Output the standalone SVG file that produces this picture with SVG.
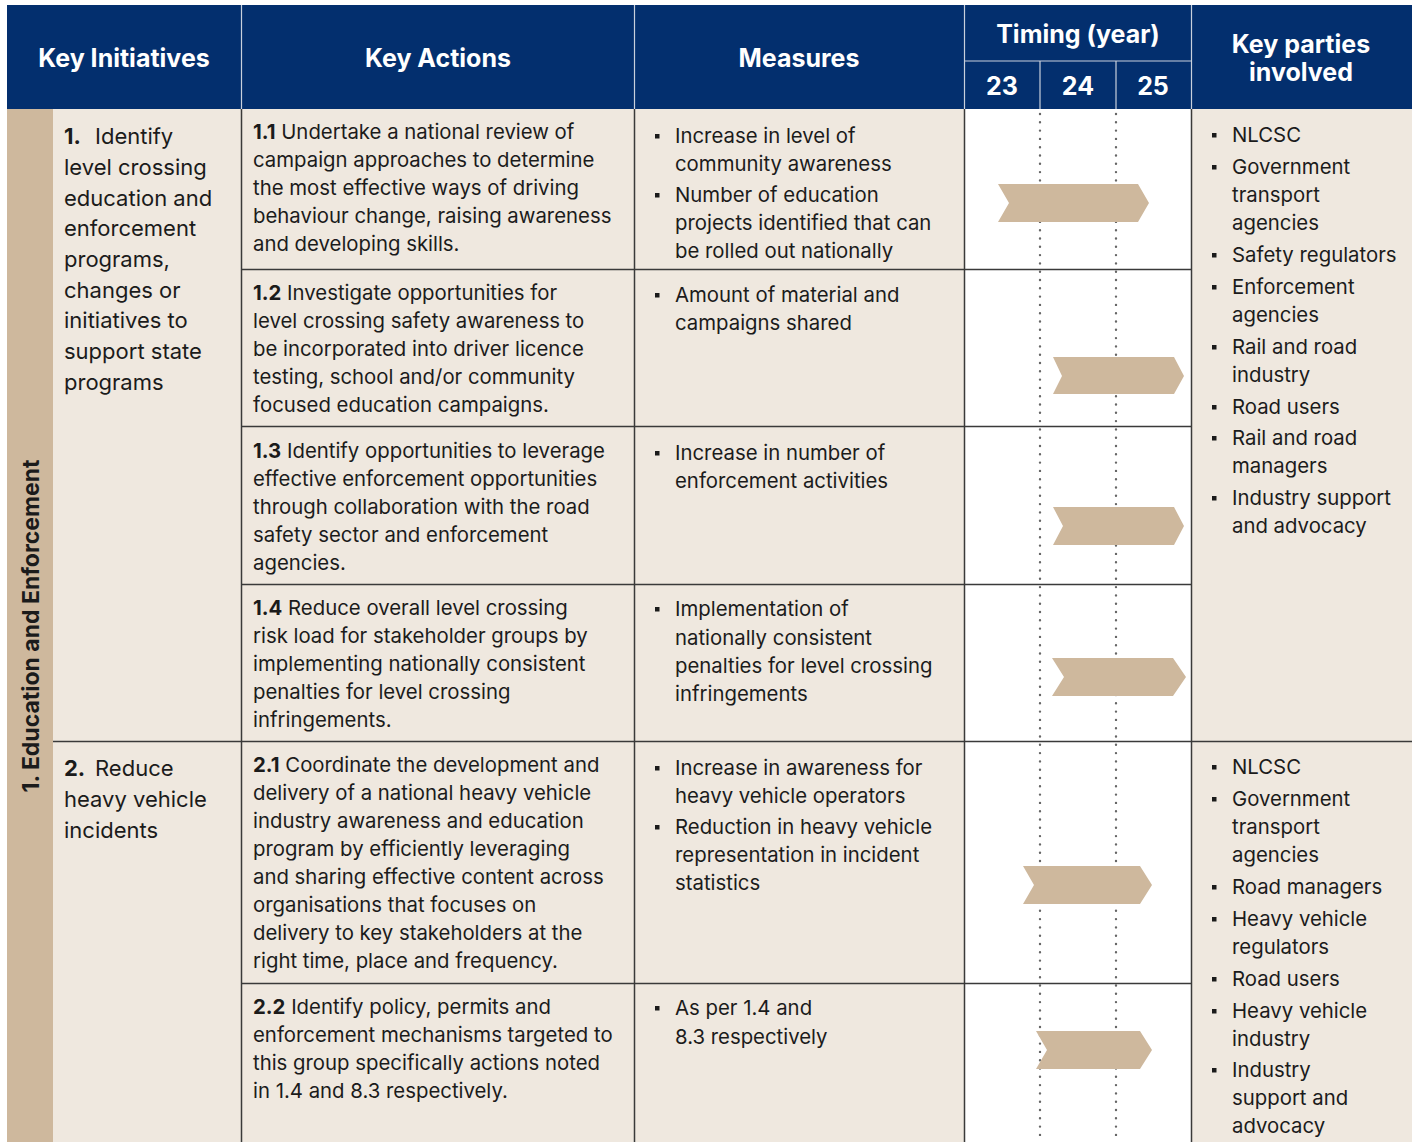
<svg xmlns="http://www.w3.org/2000/svg" width="1418" height="1142" viewBox="0 0 1418 1142">
<style>
text{font-family:Inter,"Liberation Sans",sans-serif;fill:#1b1b1b}
.h{fill:#fff;font-weight:700;font-size:25px;text-anchor:middle}
.t{font-size:20.35px}
.i{font-size:22px}
.b{font-weight:700}
.v{font-weight:700;font-size:23px}
.ln{stroke:#3a3a3a;stroke-width:1.5;fill:none}
.hl{stroke:#c9d0dc;stroke-width:1.2;fill:none}
.dot{stroke:#666;stroke-width:2.4;stroke-linecap:round;stroke-dasharray:0 8.3;fill:none}
.chev{fill:#CEB89D}
.bul{fill:#1b1b1b}
</style>
<defs>
<rect id="sq" width="4.5" height="4.5" class="bul"/>
</defs>
<rect x="0" y="0" width="1418" height="1142" fill="#fff"/>
<g id="header">
<rect x="7" y="5" width="1405" height="104" fill="#032F6E"/>
<line class="hl" x1="241.5" y1="5" x2="241.5" y2="109"/>
<line class="hl" x1="634.5" y1="5" x2="634.5" y2="109"/>
<line class="hl" x1="964.5" y1="5" x2="964.5" y2="109"/>
<line class="hl" x1="1191.5" y1="5" x2="1191.5" y2="109"/>
<line class="hl" x1="964.5" y1="61" x2="1191.5" y2="61"/>
<line class="hl" x1="1040" y1="61" x2="1040" y2="109"/>
<line class="hl" x1="1116" y1="61" x2="1116" y2="109"/>
<text class="h" x="124" y="67">Key Initiatives</text>
<text class="h" x="438" y="67">Key Actions</text>
<text class="h" x="799" y="67">Measures</text>
<text class="h" x="1078" y="43">Timing (year)</text>
<text class="h" x="1002" y="95">23</text>
<text class="h" x="1078" y="95">24</text>
<text class="h" x="1153" y="95">25</text>
<text class="h" x="1301" y="53">Key parties</text>
<text class="h" x="1301" y="81">involved</text>
</g>
<g id="body-bg">
<rect x="7" y="109" width="1405" height="1033" fill="#EFE8DF"/>
<rect x="7" y="109" width="46" height="1033" fill="#CEB89D"/>
<rect x="965" y="109" width="226" height="1033" fill="#fff"/>
<text class="v" transform="translate(39,626) rotate(-90)" text-anchor="middle">1. Education and Enforcement</text>
</g>
<g id="timing-dots">
<line class="dot" x1="1040" y1="114" x2="1040" y2="1142"/>
<line class="dot" x1="1116" y1="114" x2="1116" y2="1142"/>
</g>
<g id="connectors">
<line class="ln" x1="241.5" y1="109" x2="241.5" y2="1142"/>
<line class="ln" x1="634.5" y1="109" x2="634.5" y2="1142"/>
<line class="ln" x1="964.5" y1="109" x2="964.5" y2="1142"/>
<line class="ln" x1="1191.5" y1="109" x2="1191.5" y2="1142"/>
<line class="ln" x1="241" y1="269.5" x2="1192" y2="269.5"/>
<line class="ln" x1="241" y1="426.5" x2="1192" y2="426.5"/>
<line class="ln" x1="241" y1="584.5" x2="1192" y2="584.5"/>
<line class="ln" x1="53" y1="741.5" x2="1412" y2="741.5"/>
<line class="ln" x1="241" y1="983.5" x2="1192" y2="983.5"/>
</g>
<g id="chevrons">
<polygon class="chev" points="998,184 1138,184 1149,203 1138,222 998,222 1009,203"/>
<polygon class="chev" points="1053,357 1174,357 1184,376 1174,394 1053,394 1062,376"/>
<polygon class="chev" points="1053,507 1174,507 1184,526 1174,545 1053,545 1063,526"/>
<polygon class="chev" points="1052,658 1173,658 1186,677 1173,696 1052,696 1064,677"/>
<polygon class="chev" points="1023,866 1140,866 1152,885 1140,904 1023,904 1034,885"/>
<polygon class="chev" points="1036,1031 1140,1031 1152,1050 1140,1069 1036,1069 1047,1050"/>
</g>
<g id="initiative-1">
<text class="i" x="64"><tspan y="144" class="b">1.</tspan><tspan x="95" y="144">Identify</tspan><tspan x="64" y="175">level crossing</tspan><tspan x="64" y="206">education and</tspan><tspan x="64" y="236">enforcement</tspan><tspan x="64" y="267">programs,</tspan><tspan x="64" y="298">changes or</tspan><tspan x="64" y="328">initiatives to</tspan><tspan x="64" y="359">support state</tspan><tspan x="64" y="390">programs</tspan></text>
</g>
<g id="initiative-2">
<text class="i" x="64"><tspan y="776" class="b">2.</tspan><tspan x="95" y="776">Reduce</tspan><tspan x="64" y="807">heavy vehicle</tspan><tspan x="64" y="838">incidents</tspan></text>
</g>
<g id="action-1-1">
<text class="t" x="253"><tspan y="139"><tspan class="b">1.1</tspan> Undertake a national review of</tspan><tspan x="253" y="167">campaign approaches to determine</tspan><tspan x="253" y="195">the most effective ways of driving</tspan><tspan x="253" y="223">behaviour change, raising awareness</tspan><tspan x="253" y="251">and developing skills.</tspan></text>
</g>
<g id="action-1-2">
<text class="t" x="253"><tspan y="300"><tspan class="b">1.2</tspan> Investigate opportunities for</tspan><tspan x="253" y="328">level crossing safety awareness to</tspan><tspan x="253" y="356">be incorporated into driver licence</tspan><tspan x="253" y="384">testing, school and/or community</tspan><tspan x="253" y="412">focused education campaigns.</tspan></text>
</g>
<g id="action-1-3">
<text class="t" x="253"><tspan y="458"><tspan class="b">1.3</tspan> Identify opportunities to leverage</tspan><tspan x="253" y="486">effective enforcement opportunities</tspan><tspan x="253" y="514">through collaboration with the road</tspan><tspan x="253" y="542">safety sector and enforcement</tspan><tspan x="253" y="570">agencies.</tspan></text>
</g>
<g id="action-1-4">
<text class="t" x="253"><tspan y="615"><tspan class="b">1.4</tspan> Reduce overall level crossing</tspan><tspan x="253" y="643">risk load for stakeholder groups by</tspan><tspan x="253" y="671">implementing nationally consistent</tspan><tspan x="253" y="699">penalties for level crossing</tspan><tspan x="253" y="727">infringements.</tspan></text>
</g>
<g id="action-2-1">
<text class="t" x="253"><tspan y="772"><tspan class="b">2.1</tspan> Coordinate the development and</tspan><tspan x="253" y="800">delivery of a national heavy vehicle</tspan><tspan x="253" y="828">industry awareness and education</tspan><tspan x="253" y="856">program by efficiently leveraging</tspan><tspan x="253" y="884">and sharing effective content across</tspan><tspan x="253" y="912">organisations that focuses on</tspan><tspan x="253" y="940">delivery to key stakeholders at the</tspan><tspan x="253" y="968">right time, place and frequency.</tspan></text>
</g>
<g id="action-2-2">
<text class="t" x="253"><tspan y="1014"><tspan class="b">2.2</tspan> Identify policy, permits and</tspan><tspan x="253" y="1042">enforcement mechanisms targeted to</tspan><tspan x="253" y="1070">this group specifically actions noted</tspan><tspan x="253" y="1098">in 1.4 and 8.3 respectively.</tspan></text>
</g>
<g id="measures-1-1">
<use href="#sq" x="655" y="134"/><use href="#sq" x="655" y="193"/>
<text class="t" x="675"><tspan y="143">Increase in level of</tspan><tspan x="675" y="171">community awareness</tspan><tspan x="675" y="202">Number of education</tspan><tspan x="675" y="230">projects identified that can</tspan><tspan x="675" y="258">be rolled out nationally</tspan></text>
</g>
<g id="measures-1-2">
<use href="#sq" x="655" y="293"/>
<text class="t" x="675"><tspan y="302">Amount of material and</tspan><tspan x="675" y="330">campaigns shared</tspan></text>
</g>
<g id="measures-1-3">
<use href="#sq" x="655" y="451"/>
<text class="t" x="675"><tspan y="460">Increase in number of</tspan><tspan x="675" y="488">enforcement activities</tspan></text>
</g>
<g id="measures-1-4">
<use href="#sq" x="655" y="607"/>
<text class="t" x="675"><tspan y="616">Implementation of</tspan><tspan x="675" y="645">nationally consistent</tspan><tspan x="675" y="673">penalties for level crossing</tspan><tspan x="675" y="701">infringements</tspan></text>
</g>
<g id="measures-2-1">
<use href="#sq" x="655" y="766"/><use href="#sq" x="655" y="825"/>
<text class="t" x="675"><tspan y="775">Increase in awareness for</tspan><tspan x="675" y="803">heavy vehicle operators</tspan><tspan x="675" y="834">Reduction in heavy vehicle</tspan><tspan x="675" y="862">representation in incident</tspan><tspan x="675" y="890">statistics</tspan></text>
</g>
<g id="measures-2-2">
<use href="#sq" x="655" y="1006"/>
<text class="t" x="675"><tspan y="1015">As per 1.4 and</tspan><tspan x="675" y="1044">8.3 respectively</tspan></text>
</g>
<g id="parties-1">
<use href="#sq" x="1212" y="133"/><use href="#sq" x="1212" y="165"/><use href="#sq" x="1212" y="253"/><use href="#sq" x="1212" y="285"/><use href="#sq" x="1212" y="345"/><use href="#sq" x="1212" y="405"/><use href="#sq" x="1212" y="436"/><use href="#sq" x="1212" y="496"/>
<text class="t" x="1232"><tspan y="142">NLCSC</tspan><tspan x="1232" y="174">Government</tspan><tspan x="1232" y="202">transport</tspan><tspan x="1232" y="230">agencies</tspan><tspan x="1232" y="262">Safety regulators</tspan><tspan x="1232" y="294">Enforcement</tspan><tspan x="1232" y="322">agencies</tspan><tspan x="1232" y="354">Rail and road</tspan><tspan x="1232" y="382">industry</tspan><tspan x="1232" y="414">Road users</tspan><tspan x="1232" y="445">Rail and road</tspan><tspan x="1232" y="473">managers</tspan><tspan x="1232" y="505">Industry support</tspan><tspan x="1232" y="533">and advocacy</tspan></text>
</g>
<g id="parties-2">
<use href="#sq" x="1212" y="765"/><use href="#sq" x="1212" y="797"/><use href="#sq" x="1212" y="885"/><use href="#sq" x="1212" y="917"/><use href="#sq" x="1212" y="977"/><use href="#sq" x="1212" y="1009"/><use href="#sq" x="1212" y="1068"/>
<text class="t" x="1232"><tspan y="774">NLCSC</tspan><tspan x="1232" y="806">Government</tspan><tspan x="1232" y="834">transport</tspan><tspan x="1232" y="862">agencies</tspan><tspan x="1232" y="894">Road managers</tspan><tspan x="1232" y="926">Heavy vehicle</tspan><tspan x="1232" y="954">regulators</tspan><tspan x="1232" y="986">Road users</tspan><tspan x="1232" y="1018">Heavy vehicle</tspan><tspan x="1232" y="1046">industry</tspan><tspan x="1232" y="1077">Industry</tspan><tspan x="1232" y="1105">support and</tspan><tspan x="1232" y="1133">advocacy</tspan></text>
</g>
</svg>
